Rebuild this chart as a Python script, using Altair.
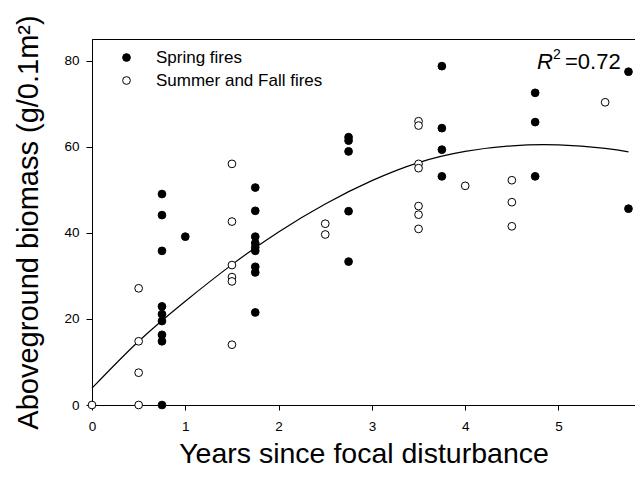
import altair as alt
import pandas as pd

FONT = "Liberation Sans"

spring_x = [0.75]*9 + [1.0] + [1.75]*9 + [2.75]*5 + [3.75]*4 + [4.75]*3 + [5.75]*2
spring_y = [49.0, 44.1, 35.8, 22.9, 21.1, 19.5, 16.3, 14.8, 0.0,
            39.1,
            50.5, 45.1, 39.1, 37.6, 36.6, 35.8, 32.1, 30.8, 21.5,
            62.2, 61.4, 58.9, 45.0, 33.3,
            78.7, 64.3, 59.3, 53.1,
            72.5, 65.7, 53.1,
            77.4, 45.6]

summer_x = [0.0] + [0.5]*4 + [1.5]*6 + [2.5]*2 + [3.5]*7 + [4.0] + [4.5]*3 + [5.5]
summer_y = [0.0,
            27.1, 14.8, 7.5, 0.0,
            56.0, 42.6, 32.5, 29.7, 28.7, 14.0,
            42.1, 39.6,
            65.9, 64.9, 56.0, 55.0, 46.2, 44.2, 40.9,
            50.9,
            52.2, 47.1, 41.5,
            70.3]

# fitted curve
fit_x = [0.0, 0.5, 1.0, 1.5, 2.0, 2.5, 3.0, 3.5, 4.0, 4.5, 5.0, 5.5, 5.75]
fit_y = [3.9, 14.8, 24.1, 32.6, 40.2, 46.7, 52.1, 56.3, 58.9, 60.2, 60.4, 59.6, 58.8]

groups = ["Spring fires", "Summer and Fall fires"]
x_ticks = [0, 1, 2, 3, 4, 5]
y_ticks = [0, 20, 40, 60, 80]

df = pd.DataFrame({
    "years": spring_x + summer_x,
    "biomass": spring_y + summer_y,
    "group": [groups[0]] * len(spring_x) + [groups[1]] * len(summer_x),
})
fit_df = pd.DataFrame({"years": fit_x, "biomass": fit_y})

x_scale = alt.Scale(domain=[0, 5.82], nice=False, zero=False)
y_scale = alt.Scale(domain=[0, 85], nice=False)

x_enc = alt.X("years:Q", scale=x_scale,
              axis=alt.Axis(values=x_ticks, title="Years since focal disturbance", format="d",
                            titleBaseline="alphabetic", titleY=57, titleFontSize=28.5))
y_enc = alt.Y("biomass:Q", scale=y_scale,
              axis=alt.Axis(values=y_ticks, title="Aboveground biomass (g/0.1m²)",
                            titleBaseline="alphabetic", titleX=-55, titleFontSize=29))

curve = alt.Chart(fit_df).mark_line(color="black", strokeWidth=1.2, interpolate="natural").encode(
    x=x_enc, y=y_enc)

points = alt.Chart(df).mark_point(filled=True, size=60, stroke="black", strokeWidth=1, opacity=1).encode(
    x="years:Q", y="biomass:Q",
    fill=alt.Fill("group:N", scale=alt.Scale(domain=groups, range=["black", "white"]),
                  legend=alt.Legend(title=None, orient="none", legendX=26, legendY=10,
                                    symbolType="circle", symbolSize=60,
                                    symbolStrokeColor="black", symbolStrokeWidth=1,
                                    labelFont=FONT, labelFontSize=17, labelColor="black",
                                    labelLimit=0, labelOffset=21, rowPadding=5, padding=0)),
)

r_text = alt.Chart(pd.DataFrame({"t": ["R"]})).mark_text(
    font=FONT, fontSize=22, fontStyle="italic", align="left", baseline="alphabetic", color="black"
).encode(x=alt.value(445), y=alt.value(30), text="t:N")
sup_text = alt.Chart(pd.DataFrame({"t": ["2"]})).mark_text(
    font=FONT, fontSize=14, align="left", baseline="alphabetic", color="black"
).encode(x=alt.value(461), y=alt.value(20), text="t:N")
val_text = alt.Chart(pd.DataFrame({"t": ["=0.72"]})).mark_text(
    font=FONT, fontSize=22, align="left", baseline="alphabetic", color="black"
).encode(x=alt.value(473), y=alt.value(30), text="t:N")

chart = alt.layer(curve, points, r_text, sup_text, val_text).properties(
    width=543, height=366,
    autosize=alt.AutoSizeParams(type="none"),
    padding={"left": 84, "top": 31, "right": 0, "bottom": 64},
).configure_view(stroke="black", strokeWidth=1).configure_axis(
    domainColor="black", tickColor="black", labelColor="black", titleColor="black",
    labelFont=FONT, titleFont=FONT, labelFontSize=13.5, titleFontWeight="normal",
    grid=False, labelFlush=False,
).configure_axisX(labelPadding=9, tickSize=5
).configure_axisY(labelPadding=7, tickSize=6)

chart.save("out.html", embed_options={"renderer": "svg", "actions": False})
